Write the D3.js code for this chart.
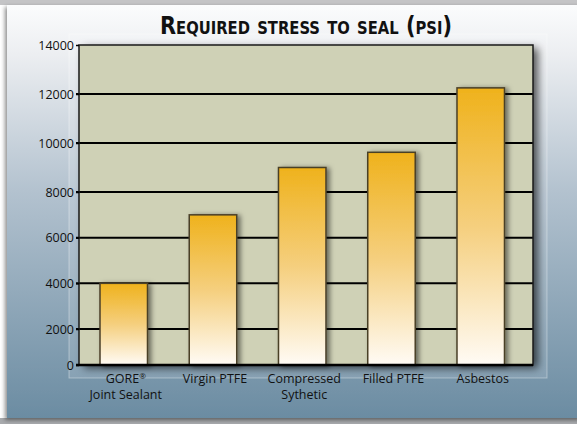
<!DOCTYPE html>
<html><head><meta charset="utf-8">
<script src="https://cdn.jsdelivr.net/npm/d3@7"></script>
<style>html,body{margin:0;padding:0;background:#fff;}svg{display:block;}</style>
</head><body>
<script>
const categories = ["GORE®|Joint Sealant", "Virgin PTFE", "Compressed|Sythetic", "Filled PTFE", "Asbestos"];
const values = [4000, 7000, 9000, 9620, 12250];
const yTicks = [0, 2000, 4000, 6000, 8000, 10000, 12000, 14000];
const title = "Required stress to seal (psi)";

const W = 577, H = 424;
const plot = {l: 79, r: 533, t: 45, b: 365};
const svg = d3.select("body").append("svg").attr("width", W).attr("height", H);
const defs = svg.append("defs");

const bgG = defs.append("linearGradient").attr("id","bg").attr("x1",0).attr("y1",0).attr("x2",0).attr("y2",1);
bgG.append("stop").attr("offset","0%").attr("stop-color","#fbfcfd");
bgG.append("stop").attr("offset","12%").attr("stop-color","#eceef1");
bgG.append("stop").attr("offset","45%").attr("stop-color","#b3c2cf");
bgG.append("stop").attr("offset","100%").attr("stop-color","#6b8ca2");

const barG = defs.append("linearGradient").attr("id","bar").attr("gradientUnits","objectBoundingBox").attr("x1",0).attr("y1",0).attr("x2",0).attr("y2",1);
barG.append("stop").attr("offset","0%").attr("stop-color","#efb21c");
barG.append("stop").attr("offset","50%").attr("stop-color","#f5cf7e");
barG.append("stop").attr("offset","100%").attr("stop-color","#fffbf5");

const sh = defs.append("filter").attr("id","sh").attr("x","-20%").attr("y","-20%").attr("width","150%").attr("height","150%");
sh.append("feDropShadow").attr("dx",5).attr("dy",3).attr("stdDeviation",4).attr("flood-color","#000").attr("flood-opacity",0.65);
const sh2 = defs.append("filter").attr("id","sh2").attr("x","-30%").attr("y","-10%").attr("width","170%").attr("height","130%");
sh2.append("feDropShadow").attr("dx",3).attr("dy",1).attr("stdDeviation",2.5).attr("flood-color","#000").attr("flood-opacity",0.5);
const cardSh = defs.append("filter").attr("id","card").attr("x","-5%").attr("y","-5%").attr("width","110%").attr("height","110%");
cardSh.append("feDropShadow").attr("dx",-2).attr("dy",2).attr("stdDeviation",2).attr("flood-color","#000").attr("flood-opacity",0.45);

// outer frame
svg.append("rect").attr("x",0).attr("y",0).attr("width",W).attr("height",5).attr("fill","#c4c4c6");
svg.append("rect").attr("x",0).attr("y",H-6).attr("width",W).attr("height",6).attr("fill","#a8aaad");
svg.append("rect").attr("x",7).attr("y",5).attr("width",W-7+5).attr("height",413)
  .attr("fill","url(#bg)").attr("filter","url(#card)");

// light panel behind plot
svg.append("rect").attr("x",69).attr("y",34).attr("width",478).attr("height",344)
  .attr("fill","rgba(255,255,255,0.12)").attr("stroke","rgba(255,255,255,0.35)").attr("stroke-width",1);

// title
svg.append("text").attr("x",306).attr("y",34).attr("text-anchor","middle")
  .attr("font-family","'Liberation Sans Narrow','DejaVu Sans Condensed',sans-serif")
  .attr("font-weight","bold").attr("font-size",24).attr("font-variant","small-caps")
  .attr("textLength",292).attr("lengthAdjust","spacingAndGlyphs")
  .attr("fill","#111").text(title);

const x = d3.scaleBand().domain(categories).range([plot.l, plot.r])
  .paddingInner(0.468).paddingOuter(0.2775).align(0.424);
// the reference axis is slightly non-uniform; a polylinear scale reproduces its grid
const y = d3.scaleLinear().domain([0, 2000, 8000, 14000]).range([plot.b, 329, 192, plot.t]);

// plot background
svg.append("rect").attr("x",plot.l).attr("y",plot.t).attr("width",plot.r-plot.l).attr("height",plot.b-plot.t)
  .attr("fill","#cfd1b6").attr("filter","url(#sh)");

// gridlines
svg.append("g").selectAll("line").data(yTicks.filter(d=>d>0 && d<14000)).join("line")
  .attr("x1",plot.l-3).attr("x2",plot.r).attr("y1",d=>y(d)).attr("y2",d=>y(d))
  .attr("stroke","#000").attr("stroke-width",2);

// bars
svg.append("g").selectAll("rect").data(values).join("rect")
  .attr("x",(d,i)=>x(categories[i])).attr("width",x.bandwidth())
  .attr("y",d=>y(d)).attr("height",d=>y(0)-y(d))
  .attr("fill","url(#bar)").attr("stroke","#4a3f28").attr("stroke-width",1.5)
  .attr("filter","url(#sh2)");

// plot border
svg.append("rect").attr("x",plot.l).attr("y",plot.t).attr("width",plot.r-plot.l).attr("height",plot.b-plot.t)
  .attr("fill","none").attr("stroke","#1a1a1a").attr("stroke-width",1.5);
svg.append("line").attr("x1",plot.l-3).attr("x2",plot.r).attr("y1",plot.b).attr("y2",plot.b).attr("stroke","#000").attr("stroke-width",2.5);

// y axis
const yAxis = d3.axisLeft(y).tickValues(yTicks).tickFormat(d3.format("d")).tickSize(3).tickPadding(2);
const ga = svg.append("g").attr("transform",`translate(${plot.l},0)`).call(yAxis);
ga.select(".domain").remove();
ga.selectAll("line").attr("stroke","#000").attr("stroke-width",1.5);
ga.selectAll("text").attr("font-family","'Open Sans','DejaVu Sans',sans-serif").attr("font-size",12.5).attr("fill","#111");

// x labels
const xl = svg.append("g");
categories.forEach((c,i)=>{
  const parts = c.split("|");
  const cx = x(c) + x.bandwidth()/2 + 2;
  parts.forEach((p,j)=>{
    const t = xl.append("text").attr("x",cx).attr("y",383 + j*15.5).attr("text-anchor","middle")
      .attr("font-family","'Open Sans','DejaVu Sans',sans-serif").attr("font-size",12.5).attr("fill","#111");
    if (p.endsWith("®")) {
      t.text(p.slice(0,-1));
      t.append("tspan").attr("font-size",8).attr("dy",-4).text("®");
    } else t.text(p);
  });
});
</script>
</body></html>
